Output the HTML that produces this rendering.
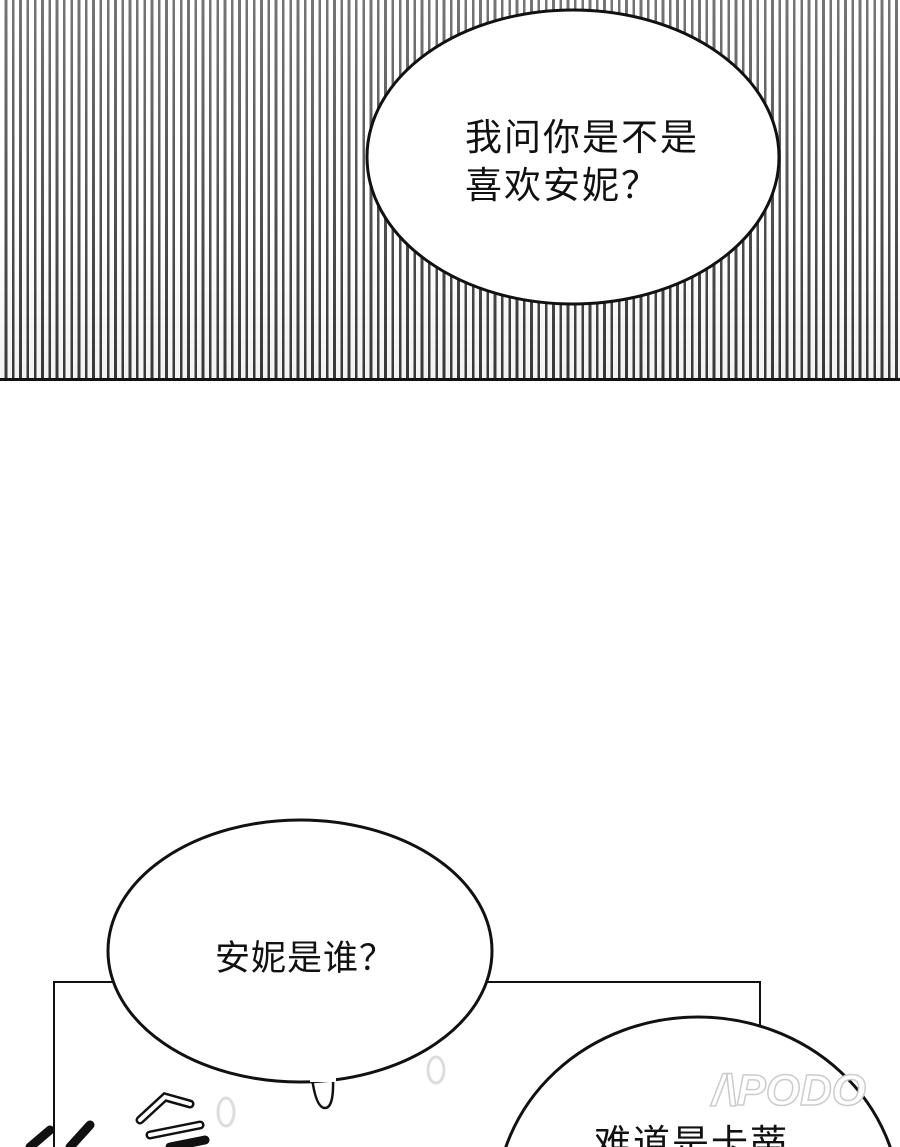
<!DOCTYPE html>
<html><head><meta charset="utf-8"><style>
html,body{margin:0;padding:0;width:900px;height:1147px;overflow:hidden;}
body{position:relative;background:#fff;font-family:"Liberation Sans","Noto Sans CJK SC",sans-serif;}
.wrap{position:absolute;left:0;top:0;width:900px;height:1147px;overflow:hidden;}
.stripes{position:absolute;left:0;top:0;width:900px;height:379px;
background:repeating-linear-gradient(90deg,#fff 0,#fff 4.6px,#3a3a3a 4.6px,#3a3a3a 7.3px);}
.stripes2{position:absolute;left:0;top:0;width:900px;height:379px;
background:linear-gradient(180deg,rgba(255,255,255,0.3) 0%,rgba(255,255,255,0.1) 60%,rgba(0,0,0,0.05) 100%);}
.hl{position:absolute;left:0;top:378px;width:900px;height:3px;background:#111;}
.t{position:absolute;color:#111;white-space:nowrap;}
</style></head><body><div class="wrap">
<div class="stripes"></div><div class="stripes2"></div>
<div class="hl"></div>
<svg width="900" height="1147" style="position:absolute;left:0;top:0">
<ellipse cx="573" cy="157" rx="206" ry="147" fill="#fff" stroke="#111" stroke-width="3"/>
<polyline points="54,1147 54,982 760,982 760,1040" fill="none" stroke="#111" stroke-width="2"/>
<path d="M312,1078 Q316,1108 325,1108 Q334,1108 333,1078" fill="#fff" stroke="#111" stroke-width="2.5"/>
<ellipse cx="300" cy="951" rx="192" ry="131" fill="#fff" stroke="#111" stroke-width="3"/>
<rect x="310" y="1074" width="26" height="8" fill="#fff"/>
<ellipse cx="698" cy="1205" rx="202" ry="188" fill="#fff" stroke="#111" stroke-width="3"/>
<ellipse cx="436" cy="1070" rx="8" ry="13" fill="#fff" stroke="#ddd" stroke-width="3"/>
<ellipse cx="226" cy="1112" rx="8" ry="14" fill="#fff" stroke="#ddd" stroke-width="3"/>
<path d="M30,1147 L50,1130 M70,1147 L90,1125 M140,1120 L165,1097 L190,1104 M150,1135 L200,1125 M170,1147 L205,1140" stroke="#111" stroke-width="9" fill="none" stroke-linecap="round"/>
<path d="M140,1120 L165,1097 L190,1104 M150,1135 L200,1125" stroke="#fff" stroke-width="4" fill="none" stroke-linecap="round"/>
<text x="712" y="1105" font-family="Liberation Sans,sans-serif" font-size="44" font-weight="bold" fill="#fff" stroke="#ccc" stroke-width="1.5" font-style="italic">/\PODO</text>
</svg>
<div class="t" style="left:465px;top:114px;font-size:37px;letter-spacing:2px;line-height:48px;">我问你是不是<br>喜欢安妮？</div>
<div class="t" style="left:215px;top:930px;font-size:35px;letter-spacing:1px;">安妮是谁？</div>
<div class="t" style="left:594px;top:1124px;font-size:37px;letter-spacing:2px;line-height:40px;">难道是卡蒂</div>
</div></body></html>
